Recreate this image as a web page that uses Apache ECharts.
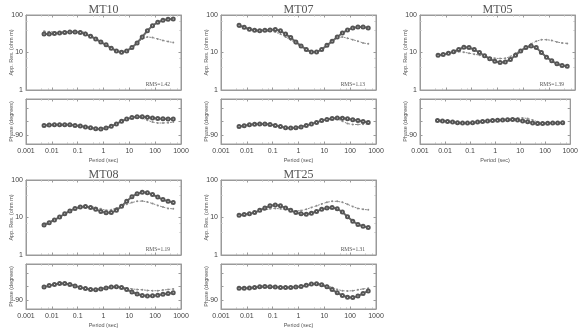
<!DOCTYPE html>
<html><head><meta charset="utf-8">
<script src="https://cdn.jsdelivr.net/npm/echarts@6/dist/echarts.min.js"></script>
<style>html,body{margin:0;padding:0;background:#fff}#c{width:581px;height:330px}</style>
</head><body><div id="c"></div>
<script>
// Periods (s)
const periods = [0.005,0.0079,0.0126,0.02,0.0316,0.05,0.079,0.126,0.2,0.316,0.5,0.79,1.26,2,3.16,5,7.9,12.6,20,31.6,50,79,126,200,316,500];
const xTickLabels = ['0.001','0.01','0.1','1','10','100','1000'];
const resTickLabels = ['1','10','100'];
const phaseTickLabels = ['-90'];
const stationNames = ['MT10','MT07','MT05','MT08','MT25'];
const rmsTexts = ['RMS=1.42','RMS=1.13','RMS=1.39','RMS=1.19','RMS=1.31'];

// Apparent resistivity (ohm m): A = solid/circle curve, B = dashed curve
const mt10ResA = [31,31,32,33,34,35,35,34,31,27,23,19,16,13,11,10.2,11,13.5,18,26,38,52,64,72,77,78];
const mt10ResB = [37,36,35,35,35,36,37,37,34,29,24,19,15.5,12.5,10.8,10.2,11,13.5,18,23,26,25,23,21,19.5,18.5];
const mt07ResA = [53,47,42,39,38,39,40,41,38,31,25,19,15,12,10.3,10.3,12,15.5,20,26,33,40,45,48,48,45];
const mt07ResB = [48,44,40,38,37,37,37,35,31,26,21.5,17.5,14,11.5,10,10.3,12,15.5,20,25,26,24,22,20,18,17];
const mt05ResA = [8.4,8.8,9.5,10.5,12,13.8,13.5,12,10,8.2,6.8,5.8,5.4,5.6,6.5,8.5,11,13.5,15,13.5,10,7.5,6,5,4.5,4.3];
const mt05ResB = [8.8,9.2,9.8,10.3,10.5,10.2,9.6,9,8.5,7.8,7.3,7.0,6.9,7.0,7.8,9.5,11.5,14,17,20,22,22,21,19,18,17.5];
const mt08ResA = [6.3,7.3,8.6,10.3,12.5,15,17.5,19,19.5,18.5,16.5,14.5,13.3,13.5,15.5,20,27,36,43,47,46,41,35,30,27,25];
const mt08ResB = [6.9,7.7,8.9,10.5,12.5,15,17.5,19.5,20,19.5,18.5,17,15.5,16,18,20,22.5,25,27,27.5,26,23.5,21,19,17.5,17];
const mt25ResA = [11.5,12,12.5,13.5,15.5,18,20.5,21.5,20.5,18,15.5,13.5,12.5,12.3,13,14.5,16.5,18,18.5,17,14,10.5,8,6.5,5.8,5.4];
const mt25ResB = [11.5,12,12.5,13.5,14.8,16,17,17.5,17,16.5,15.5,15,15.3,16.5,18.5,20.5,23,25.5,27,27,25.5,22.5,19.5,17.5,16.5,16];

// Phase (degrees)
const mt10PhA = [-58,-57,-56,-56,-56,-56,-58,-60,-63,-66,-69,-70,-67,-61,-53,-44,-37,-32,-29,-29,-31,-33,-35,-36,-37,-37];
const mt10PhB = [-60,-59,-58,-57,-57,-57,-58,-60,-63,-66,-69,-70,-67,-61,-53,-44,-37,-32,-30,-34,-41,-47,-50,-50,-49,-47];
const mt07PhA = [-62,-59,-56,-54,-53,-53,-55,-58,-62,-66,-67,-66,-63,-58,-53,-48,-42,-38,-35,-33,-34,-36,-39,-42,-45,-48];
const mt07PhB = [-62,-59,-56,-54,-53,-53,-55,-58,-62,-66,-67,-66,-63,-58,-53,-48,-42,-38,-35,-36,-44,-52,-55,-55,-54,-53];
const mt05PhA = [-42,-43,-45,-47,-49,-50,-50,-49,-47,-45,-43,-42,-41,-40,-39,-38,-40,-43,-46,-50,-52,-52,-51,-50,-50,-49];
const mt05PhB = [-42,-43,-45,-47,-49,-50,-50,-49,-47,-45,-43,-42,-41,-40,-39,-36,-34,-33,-35,-40,-46,-50,-51,-50,-50,-49];
const mt08PhA = [-47,-42,-38,-35,-35,-38,-43,-48,-52,-55,-56,-53,-50,-47,-46,-48,-55,-63,-70,-75,-77,-76,-74,-71,-68,-66];
const mt08PhB = [-47,-42,-38,-35,-35,-38,-43,-48,-52,-55,-56,-53,-50,-47,-46,-48,-50,-53,-55,-56,-58,-59,-59,-57,-55,-53];
const mt25PhA = [-51,-51,-50,-48,-46,-45,-46,-47,-48,-48,-48,-47,-45,-41,-37,-36,-39,-46,-55,-66,-75,-81,-82,-77,-68,-60];
const mt25PhB = [-51,-51,-50,-48,-46,-45,-46,-47,-48,-48,-48,-47,-45,-41,-37,-36,-39,-42,-48,-55,-59,-60,-59,-56,-53,-51];

const resA = [mt10ResA, mt07ResA, mt05ResA, mt08ResA, mt25ResA];
const resB = [mt10ResB, mt07ResB, mt05ResB, mt08ResB, mt25ResB];
const phA = [mt10PhA, mt07PhA, mt05PhA, mt08PhA, mt25PhA];
const phB = [mt10PhB, mt07PhB, mt05PhB, mt08PhB, mt25PhB];

// layout
const panelLeft = [26, 221, 420, 26, 221];
const panelTop = [15, 15, 15, 180, 180];
const W = 155, HR = 75, HP = 45, GAP = 9;

const grids = [], xAxes = [], yAxes = [], series = [], texts = [];
const boxColor = '#9a9a9a', labelColor = '#444', nameColor = '#555';
const pair = arr => arr.map((v, k) => [periods[k], v]);
const xfmt = v => xTickLabels[Math.round(Math.log10(v)) + 3] || '';

function addAxes(gi, kind, showX) {
  const xBase = {type:'log', logBase:10, min:0.001, max:1000, gridIndex:gi,
    axisLine:{show:true, onZero:false, lineStyle:{color:boxColor, width:1}},
    splitLine:{show:false},
    minorTick:{show:true, splitNumber:3, length:1.5, lineStyle:{color:'#bbb'}},
    axisTick:{show:true, inside:true, length:2.5, lineStyle:{color:boxColor}}};
  xAxes.push(Object.assign({}, xBase, {position:'bottom',
    axisLabel:{show:showX, fontSize:7, color:labelColor, margin:4, fontFamily:'Liberation Sans', formatter:xfmt},
    name: showX ? 'Period (sec)' : '', nameLocation:'middle', nameGap:13,
    nameTextStyle:{fontSize:5.5, color:nameColor, fontFamily:'Liberation Sans'}}));
  xAxes.push(Object.assign({}, xBase, {position:'top', axisLabel:{show:false}}));
  let yBase;
  if (kind === 'res') {
    yBase = {type:'log', logBase:10, min:1, max:100, gridIndex:gi,
      axisLine:{show:true, onZero:false, lineStyle:{color:boxColor}}, splitLine:{show:false},
      minorTick:{show:true, splitNumber:3, length:1.5, lineStyle:{color:'#bbb'}},
      axisTick:{show:true, inside:true, length:2.5, lineStyle:{color:boxColor}}};
    yAxes.push(Object.assign({}, yBase, {position:'left',
      axisLabel:{show:true, fontSize:7, color:labelColor, margin:3, fontFamily:'Liberation Sans',
        formatter: v => resTickLabels[Math.round(Math.log10(v))] || ''},
      name:'App. Res. (ohm m)', nameLocation:'middle', nameGap:12, nameRotate:90, nameMoveOverlap:false,
      nameTextStyle:{fontSize:5.5, color:nameColor, fontFamily:'Liberation Sans'}}));
  } else {
    yBase = {type:'value', min:-120, max:30, gridIndex:gi,
      axisLine:{show:true, onZero:false, lineStyle:{color:boxColor}}, splitLine:{show:false},
      axisTick:{show:true, inside:true, length:2.5, lineStyle:{color:boxColor}, customValues:[-90,-45,0]}};
    yAxes.push(Object.assign({}, yBase, {position:'left',
      axisLabel:{show:true, fontSize:7, color:labelColor, margin:3, fontFamily:'Liberation Sans',
        customValues:[-90], formatter: v => phaseTickLabels[0]},
      name:'Phase (degrees)', nameLocation:'middle', nameGap:12, nameRotate:90, nameMoveOverlap:false,
      nameTextStyle:{fontSize:5.5, color:nameColor, fontFamily:'Liberation Sans'}}));
  }
  yAxes.push(Object.assign({}, yBase, {position:'right', axisLabel:{show:false}, name:''}));
}

function addSeries(gi, a, b) {
  const ax = 2 * gi;
  series.push({type:'line', xAxisIndex:ax, yAxisIndex:ax, data:pair(b),
    symbol:'circle', symbolSize:2, lineStyle:{color:'#8c8c8c', width:1, type:[2,1.5]},
    itemStyle:{color:'#8c8c8c'}, animation:false, silent:true, z:2});
  series.push({type:'line', xAxisIndex:ax, yAxisIndex:ax, data:pair(a),
    symbol:'emptyCircle', symbolSize:3, lineStyle:{color:'#6a6a6a', width:2},
    itemStyle:{color:'#555', borderWidth:0.8}, animation:false, silent:true, z:3});
}

stationNames.forEach((name, i) => {
  const L = panelLeft[i], T = panelTop[i];
  const gr = grids.length;
  grids.push({left:L, top:T, width:W, height:HR, show:true, borderColor:boxColor, borderWidth:1});
  grids.push({left:L, top:T + HR + GAP, width:W, height:HP, show:true, borderColor:boxColor, borderWidth:1});
  addAxes(gr, 'res', false);
  addAxes(gr + 1, 'phase', true);
  addSeries(gr, resA[i], resB[i]);
  addSeries(gr + 1, phA[i], phB[i]);
  texts.push({type:'text', x:L + W / 2, y:T - 5, z:10,
    style:{text:name, fill:'#555', font:'12px "Liberation Serif"', align:'center', verticalAlign:'middle'}});
  texts.push({type:'text', x:L + W - 11, y:T + HR - 5, z:10,
    style:{text:rmsTexts[i], fill:'#555', font:'5.5px "Liberation Serif"', align:'right', verticalAlign:'middle'}});
});

const chart = echarts.init(document.getElementById('c'), null, {renderer:'canvas'});
chart.setOption({animation:false, backgroundColor:'#fff', grid:grids, xAxis:xAxes, yAxis:yAxes, series:series, graphic:texts});
</script></body></html>
